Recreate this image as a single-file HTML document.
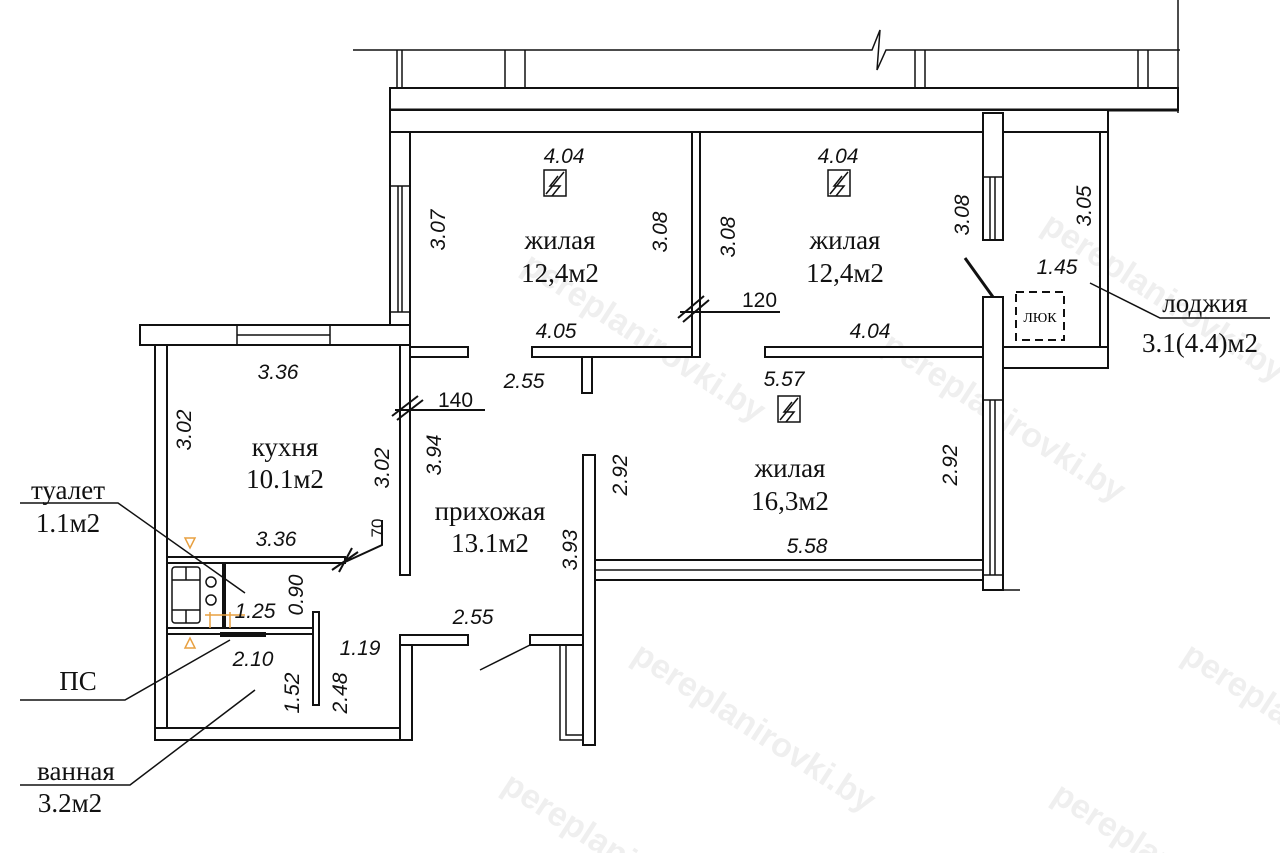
<!DOCTYPE html>
<html><head><meta charset="utf-8"><style>
html,body{margin:0;padding:0;background:#fff;width:1280px;height:853px;overflow:hidden}
svg{display:block}
.w{fill:#fff;stroke:#111;stroke-width:2}
.l{stroke:#111;stroke-width:1.5;fill:none}
.d{font-family:"Liberation Sans",sans-serif;font-style:italic;font-size:21px;fill:#111}
.n{font-family:"Liberation Serif",serif;font-size:27px;fill:#111}
.wm{font-family:"Liberation Sans",sans-serif;font-weight:bold;font-size:34px;fill:#efefef}
</style></head><body>
<svg width="1280" height="853" viewBox="0 0 1280 853" style="overflow:hidden">
<g class="wm">
<text transform="translate(520,270) rotate(33)">pereplanirovki.by</text>
<text transform="translate(880,350) rotate(33)">pereplanirovki.by</text>
<text transform="translate(630,660) rotate(33)">pereplanirovki.by</text>
<text transform="translate(1040,230) rotate(33)">pereplanirovki.by</text>
<text transform="translate(1180,660) rotate(33)">pereplanirovki.by</text>
<text transform="translate(500,790) rotate(33)">pereplanirovki.by</text>
<text transform="translate(1050,800) rotate(33)">pereplanirovki.by</text>
</g>
<path class="l" d="M353 50 H872 L880 30 L877 70 L886 50 H1180 M1178 0 V113"/>
<path class="l" d="M397 50 V88 M402 50 V88 M505 50 V88 M525 50 V88 M915 50 V88 M925 50 V88 M1138 50 V88 M1148 50 V88"/>
<rect class="w" x="390" y="88" width="788" height="22"/>
<path d="M390 110 H1178" stroke="#111" stroke-width="3"/>
<rect class="w" x="390" y="110" width="718" height="22"/>
<rect class="w" x="390" y="132" width="20" height="195"/>
<path class="l" d="M390 186 H410 M398 186 V312 M402 186 V312 M390 312 H410"/>
<rect class="w" x="140" y="325" width="270" height="20"/>
<path class="l" d="M237 325 V345 M330 325 V345 M237 335 H330"/>
<rect class="w" x="155" y="345" width="12" height="395"/>
<rect class="w" x="155" y="728" width="257" height="12"/>
<rect class="w" x="400" y="635" width="12" height="105"/>
<rect class="w" x="400" y="635" width="68" height="10"/>
<rect class="w" x="400" y="345" width="10" height="230"/>
<rect class="w" x="410" y="347" width="58" height="10"/>
<rect class="w" x="532" y="347" width="168" height="10"/>
<rect class="w" x="582" y="357" width="10" height="36"/>
<rect class="w" x="692" y="132" width="8" height="225"/>
<rect class="w" x="765" y="347" width="218" height="10"/>
<rect class="w" x="983" y="113" width="20" height="127"/>
<path class="l" d="M983 177 H1003 M990 177 V240 M995 177 V240"/>
<rect class="w" x="1100" y="132" width="8" height="218"/>
<rect class="w" x="1003" y="347" width="105" height="21"/>
<rect class="w" x="983" y="297" width="20" height="293"/>
<path class="l" d="M983 400 H1003 M990 400 V575 M995 400 V575 M983 575 H1003 M1003 590 H1020"/>
<path d="M965 258 L993 297" stroke="#111" stroke-width="3"/>
<rect x="1016" y="292" width="48" height="48" fill="none" stroke="#111" stroke-width="2" stroke-dasharray="8,5"/>
<text x="1040" y="322" text-anchor="middle" font-family="Liberation Serif,serif" font-size="14">ЛЮК</text>
<rect class="w" x="592" y="560" width="391" height="20"/>
<path class="l" d="M592 570 H983"/>
<rect class="w" x="583" y="455" width="12" height="290"/>
<rect class="w" x="530" y="635" width="53" height="10"/>
<path class="l" d="M560 645 V740 H583 M566 645 V735 H583"/>
<path class="l" d="M530 645 L480 670"/>
<rect class="w" x="167" y="557" width="178" height="6"/>
<rect class="w" x="167" y="628" width="150" height="6"/>
<rect class="w" x="313" y="612" width="6" height="93"/>
<rect x="222" y="563" width="4" height="65" fill="#111"/>
<rect x="172" y="567" width="28" height="56" rx="3" class="l"/>
<path class="l" d="M172 580 H200 M172 610 H200 M186 567 V580 M186 610 V623"/>
<circle cx="211" cy="582" r="5" class="l"/><circle cx="211" cy="600" r="5" class="l"/>
<rect x="220" y="632" width="46" height="5" fill="#111"/>
<g fill="none" stroke="#e8a040" stroke-width="1.5">
<path d="M185 538 L195 538 L190 548 Z M185 648 L195 648 L190 638 Z M205 615 H245 M210 612 V628 M230 612 V628"/>
</g>
<path d="M680 312 H780 M678 318 L704 296 M683 322 L709 300" stroke="#111" stroke-width="2" fill="none"/>
<path d="M395 410 H485 M392 416 L418 396 M397 420 L423 400" stroke="#111" stroke-width="2" fill="none"/>
<path d="M332 570 L358 552 M339 572 L352 548 M345 562 L382 545 V520" stroke="#111" stroke-width="2" fill="none"/>
<path class="l" d="M20 503 H118 L245 593 M20 700 H125 L230 640 M20 785 H130 L255 690 M1090 283 L1160 318 H1270"/>
<g class="d">
<text x="564" y="163" text-anchor="middle">4.04</text>
<text x="838" y="163" text-anchor="middle">4.04</text>
<text x="556" y="338" text-anchor="middle">4.05</text>
<text x="870" y="338" text-anchor="middle">4.04</text>
<text x="524" y="388" text-anchor="middle">2.55</text>
<text x="784" y="386" text-anchor="middle">5.57</text>
<text x="278" y="379" text-anchor="middle">3.36</text>
<text x="276" y="546" text-anchor="middle">3.36</text>
<text x="807" y="553" text-anchor="middle">5.58</text>
<text x="473" y="624" text-anchor="middle">2.55</text>
<text x="1057" y="274" text-anchor="middle">1.45</text>
<text x="255" y="618" text-anchor="middle">1.25</text>
<text x="253" y="666" text-anchor="middle">2.10</text>
<text x="360" y="655" text-anchor="middle">1.19</text>
<text x="742" y="307" font-style="normal">120</text>
<text x="438" y="407" font-style="normal">140</text>
<text transform="translate(445,230) rotate(-90)" text-anchor="middle">3.07</text>
<text transform="translate(667,232) rotate(-90)" text-anchor="middle">3.08</text>
<text transform="translate(735,237) rotate(-90)" text-anchor="middle">3.08</text>
<text transform="translate(969,215) rotate(-90)" text-anchor="middle">3.08</text>
<text transform="translate(1091,206) rotate(-90)" text-anchor="middle">3.05</text>
<text transform="translate(191,430) rotate(-90)" text-anchor="middle">3.02</text>
<text transform="translate(389,468) rotate(-90)" text-anchor="middle">3.02</text>
<text transform="translate(441,455) rotate(-90)" text-anchor="middle">3.94</text>
<text transform="translate(577,550) rotate(-90)" text-anchor="middle">3.93</text>
<text transform="translate(627,475) rotate(-90)" text-anchor="middle">2.92</text>
<text transform="translate(957,465) rotate(-90)" text-anchor="middle">2.92</text>
<text transform="translate(303,595) rotate(-90)" text-anchor="middle">0.90</text>
<text transform="translate(299,693) rotate(-90)" text-anchor="middle">1.52</text>
<text transform="translate(347,693) rotate(-90)" text-anchor="middle">2.48</text>
<text transform="translate(383,528) rotate(-90)" text-anchor="middle" font-style="normal" font-size="17">70</text>
</g>
<g class="n" text-anchor="middle">
<text x="560" y="249">жилая</text><text x="560" y="282">12,4м2</text>
<text x="845" y="249">жилая</text><text x="845" y="282">12,4м2</text>
<text x="790" y="477">жилая</text><text x="790" y="510">16,3м2</text>
<text x="285" y="456">кухня</text><text x="285" y="488">10.1м2</text>
<text x="490" y="520">прихожая</text><text x="490" y="552">13.1м2</text>
<text x="1205" y="312">лоджия</text><text x="1200" y="352">3.1(4.4)м2</text>
<text x="68" y="499">туалет</text><text x="68" y="532">1.1м2</text>
<text x="78" y="690">ПС</text>
<text x="76" y="780">ванная</text><text x="70" y="812">3.2м2</text>
</g>
<g class="l">
<rect x="544" y="170" width="22" height="26"/><path d="M546 194 L564 172 M558 176 L550 186 H560 L552 196"/>
<rect x="828" y="170" width="22" height="26"/><path d="M830 194 L848 172 M842 176 L834 186 H844 L836 196"/>
<rect x="778" y="396" width="22" height="26"/><path d="M780 420 L798 398 M792 402 L784 412 H794 L786 422"/>
</g>
</svg>
</body></html>
